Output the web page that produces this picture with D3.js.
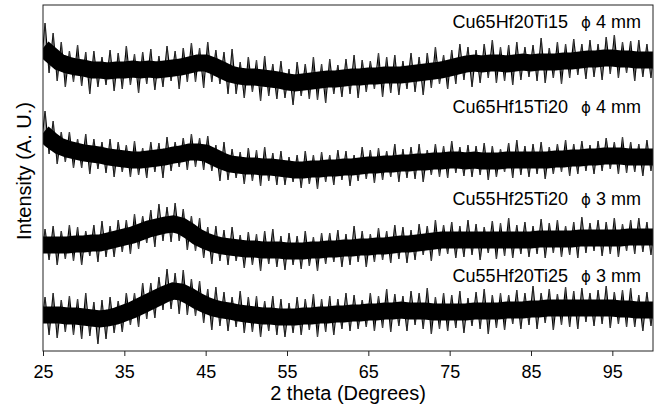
<!DOCTYPE html>
<html>
<head>
<meta charset="utf-8">
<script src="https://cdn.jsdelivr.net/npm/d3@7"></script>
<style>
body { margin: 0; background: #fff; }
text { font-family: "Liberation Sans", Arial, Helvetica, sans-serif; fill: #000; }
</style>
</head>
<body>
<script>
// 2 theta grid (degrees)
var theta = [25,26,27,28,29,30,31,32,33,34,35,36,37,38,39,40,41,42,43,44,45,46,47,48,49,50,
  51,52,53,54,55,56,57,58,59,60,61,62,63,64,65,66,67,68,69,70,71,72,73,74,75,76,77,78,79,80,
  81,82,83,84,85,86,87,88,89,90,91,92,93,94,95,96,97,98,99,100]
var xTicks = [25,35,45,55,65,75,85,95]

var samples = ["Cu65Hf20Ti15", "Cu65Hf15Ti20", "Cu55Hf25Ti20", "Cu55Hf20Ti25"]
var diameters = ["4 mm", "4 mm", "3 mm", "3 mm"]

// trace centre (A. U., patterns stacked with offsets)
var mid1 = [303,296,289,286,284,283,281,281,280,281,281,282,281,282,281,282,283,284,286,288,
  288,285,281,277,275,274,274,273,272,271,269,268,269,270,271,272,272,273,274,274,
  275,275,276,276,276,277,278,279,280,281,283,285,287,288,287,288,288,287,288,289,
  288,289,289,289,290,290,291,292,292,293,293,292,292,291,291,291]
var mid2 = [218,211,205,202,200,198,197,196,194,193,192,191,191,192,193,194,196,197,199,199,
  198,194,190,187,186,185,185,184,184,183,182,181,181,182,182,183,183,184,184,185,
  186,186,187,187,188,188,189,189,190,190,191,191,190,191,190,190,190,191,191,191,
  191,191,191,192,192,193,193,194,194,195,195,195,194,194,194,194]
var mid3 = [106,106,106,106,107,107,108,108,110,112,114,116,119,122,124,126,127,125,120,114,
  110,107,105,104,103,102,102,101,101,101,100,100,100,101,101,102,102,103,103,104,
  104,105,105,106,107,107,108,109,110,111,111,111,111,111,111,111,111,111,111,111,
  111,112,112,112,112,112,113,113,113,113,113,113,114,114,114,114]
var mid4 = [36,36,36,35,35,34,33,32,33,35,38,41,45,49,53,57,60,59,55,50,
  46,43,41,40,38,37,36,35,35,34,34,34,35,35,36,36,37,37,38,38,
  39,39,40,40,41,40,40,40,39,39,39,39,39,40,40,40,40,41,41,41,
  42,42,43,43,43,43,43,43,43,43,43,42,42,41,41,41]

// height of the noise spikes above / below the trace
var up1 = [25,22,20,14,22,16,19,13,21,17, 24,15,18,20,14,23,17,19,22,15, 21,16,18,25,14,20,17,22,15,19,
  13,21,18,24,16,20,14,19,22,17, 15,23,18,20,14,21,16,19,24,15, 18,22,17,13,20,23,16,19,21,15,
  18,24,14,20,17,22,16,19,15,21, 23,17,18,20,16,19]
var dn1 = [22,18,19,22,15,18,24,17,14,21, 19,16,23,15,20,18,13,22,17,19, 25,16,14,20,18,21,15,23,17,19,
  16,22,14,18,20,24,15,19,17,21, 16,13,22,18,20,15,19,23,17,14, 21,18,16,24,19,15,20,17,22,18,
  14,19,21,16,23,17,15,20,18,22, 16,19,14,21,17,18]
var up2 = [22,19,14,17,12,19,15,13,18,16, 14,19,12,17,15,20,13,16,18,14, 17,12,19,15,13,18,16,20,14,17,
  12,15,19,14,17,13,18,16,12,19, 15,17,13,20,14,16,18,12,17,15, 19,13,16,14,18,15,12,17,20,14,
  16,18,13,15,19,14,17,12,16,18, 14,19,15,13,17,16]
var dn2 = [16,14,18,13,17,15,20,14,16,19, 13,17,15,19,14,21,16,13,18,15, 17,14,20,16,13,18,15,19,14,17,
  16,12,18,15,20,14,17,13,19,15, 14,18,16,13,19,15,17,20,14,16, 18,13,15,17,14,19,16,12,18,15,
  17,14,19,15,13,18,16,14,17,15, 13,18,16,15,19,14]
var up3 = [16,19,14,20,17,13,18,22,15,19, 17,21,16,19,23,18,21,17,15,19, 14,18,16,20,13,17,15,19,21,14,
  18,15,20,13,17,16,19,14,22,16, 13,18,15,20,17,14,19,16,21,15, 18,14,20,16,13,19,17,22,15,18,
  14,20,16,19,13,17,21,15,18,16, 20,14,17,19,15,18]
var dn3 = [18,15,20,14,17,21,13,19,16,18, 15,19,17,14,20,16,18,15,19,14, 17,20,15,18,13,19,16,21,14,17,
  19,14,18,16,21,15,13,19,17,15, 20,16,14,18,15,19,17,13,20,16, 14,18,17,15,20,13,19,16,18,14,
  17,15,19,14,18,16,20,15,13,18, 16,19,14,17,15,18]
var up4 = [18,22,15,20,17,24,16,19,21,15, 20,17,23,19,21,25,18,22,17,20, 16,21,18,14,22,17,19,15,20,18,
  14,20,17,22,16,19,15,21,18,13, 19,16,22,17,14,20,18,23,15,19, 17,21,14,19,22,16,18,15,20,17,
  23,16,19,14,21,17,20,15,18,22, 16,19,21,15,18,17]
var dn4 = [17,20,23,16,19,22,18,25,21,17, 19,15,21,17,20,16,18,22,19,15, 18,22,16,20,14,19,17,21,15,18,
  20,16,19,14,22,17,21,15,18,16, 15,19,17,21,16,20,14,18,22,17, 19,16,21,15,18,23,17,20,14,19,
  16,20,15,22,17,19,21,14,18,16, 20,15,18,17,21,16]

var mids = [mid1, mid2, mid3, mid4]
var ups = [up1, up2, up3, up4]
var dns = [dn1, dn2, dn3, dn4]
var labelY = [28, 113, 205, 282]

var width = 660
var height = 407
var margin = {top: 5, right: 7, bottom: 56, left: 43}

var x = d3.scaleLinear().domain([25, 100]).range([margin.left, width - margin.right])
var y = d3.scaleLinear().domain([0, 346]).range([height - margin.bottom, margin.top])

var svg = d3.select("body").append("svg")
  .attr("width", width)
  .attr("height", height)

svg.append("clipPath").attr("id", "plot")
  .append("rect")
  .attr("x", x(25)).attr("y", y(346))
  .attr("width", x(100) - x(25)).attr("height", y(0) - y(346))

var traces = svg.append("g").attr("clip-path", "url(#plot)")

var zig = d3.line().x(d => x(d[0])).y(d => y(d[1]))
var core = d3.line().x((d, i) => x(theta[i])).y(d => y(d))

mids.forEach(function(mid, k) {
  var pts = []
  var p = d3.path()
  theta.forEach(function(t, i) {
    pts.push([t - 0.25, mid[i] - dns[k][i]])
    pts.push([t + 0.25, mid[i] + ups[k][i]])
    p.moveTo(x(t - 0.25), y(mid[i]))
    p.lineTo(x(t - 0.25), y(mid[i] - dns[k][i]))
    p.moveTo(x(t + 0.25), y(mid[i]))
    p.lineTo(x(t + 0.25), y(mid[i] + ups[k][i]))
  })
  // noise: zig-zag between spike tips plus vertical hairs
  traces.append("path")
    .attr("d", zig(pts))
    .attr("fill", "none")
    .attr("stroke", "#000")
    .attr("stroke-width", 1.2)
  traces.append("path")
    .attr("d", p.toString())
    .attr("fill", "none")
    .attr("stroke", "#444")
    .attr("stroke-width", 1)
  // dense core of the trace
  traces.append("path")
    .attr("d", core(mid))
    .attr("fill", "none")
    .attr("stroke", "#000")
    .attr("stroke-width", 17)
})

// frame
svg.append("rect")
  .attr("x", x(25)).attr("y", y(346))
  .attr("width", x(100) - x(25)).attr("height", y(0) - y(346))
  .attr("fill", "none")
  .attr("stroke", "#222")
  .attr("stroke-width", 1)

var xAxis = svg.append("g")
  .attr("transform", "translate(0," + y(0) + ")")
  .call(d3.axisBottom(x).tickValues(xTicks).tickSize(5).tickPadding(9))
xAxis.select(".domain").remove()
xAxis.selectAll("line").attr("stroke", "#222")
xAxis.selectAll("text").style("font-size", "18px").attr("fill", "#000")
  .style("font-family", "'Liberation Sans', Arial, sans-serif")

svg.append("text")
  .attr("x", (x(25) + x(100)) / 2)
  .attr("y", 400)
  .attr("text-anchor", "middle")
  .style("font-size", "20px")
  .text("2 theta (Degrees)")

svg.append("text")
  .attr("transform", "translate(31,171) rotate(-90)")
  .attr("text-anchor", "middle")
  .style("font-size", "20px")
  .text("Intensity (A. U.)")

samples.forEach(function(s, k) {
  svg.append("text")
    .attr("x", 568).attr("y", labelY[k])
    .attr("text-anchor", "end")
    .style("font-size", "18px")
    .text(s)
  var t = svg.append("text")
    .attr("x", 641).attr("y", labelY[k])
    .attr("text-anchor", "end")
    .style("font-size", "18px")
  t.append("tspan").style("font-family", "'DejaVu Sans'").style("font-size", "15px").text("\u03d5")
  t.append("tspan").attr("dx", 5).text(diameters[k])
})
</script>
</body>
</html>
